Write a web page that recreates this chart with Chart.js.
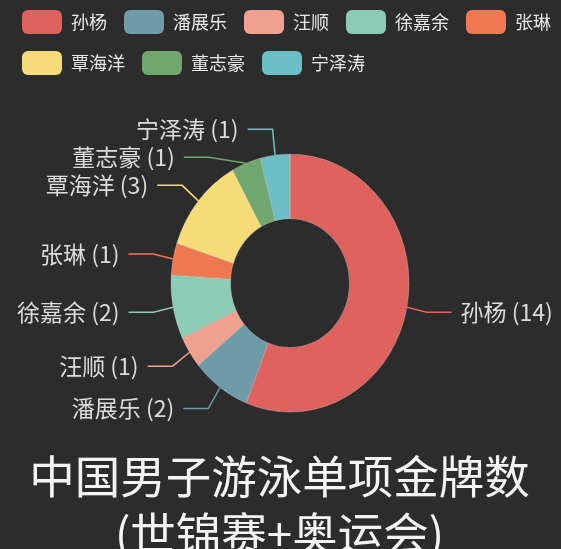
<!DOCTYPE html>
<html>
<head>
<meta charset="utf-8">
<script src="https://cdn.jsdelivr.net/npm/chart.js@4.4.1/dist/chart.umd.min.js"></script>
<style>
  html, body { margin: 0; padding: 0; background: #2c2c2c; }
  #wrap { width: 561px; height: 549px; position: relative; }
</style>
</head>
<body>
<div id="wrap"><canvas id="donut"></canvas></div>
<script>
var names = ['孙杨', '潘展乐', '汪顺', '徐嘉余', '张琳', '覃海洋', '董志豪', '宁泽涛'];
var medals = [14, 2, 1, 2, 1, 3, 1, 1];
var colors = ['#e0625f', '#6f9aa8', '#f0a08e', '#8ccbb5', '#f07850', '#f5dc78', '#6fa76e', '#6cbfc6'];
var titleLines = ['中国男子游泳单项金牌数', '(世锦赛+奥运会)'];

var FONT = '"Noto Sans CJK SC", "Noto Sans", sans-serif';
var stretchY = 1.084; // the reference ring is a bit taller than wide

// outside labels with two-part leader lines, like the original
var pieLabels = {
    id: 'pieLabels',
    afterLayout: function(chart) {
        // ring sits a little right of the page centre, title a little left
        chart.chartArea.left += 14;
        chart.chartArea.width -= 14;
        if (chart.titleBlock) {
            chart.titleBlock.left = 0;
            chart.titleBlock.right = chart.width - 2;
        }
    },
    beforeDatasetsDraw: function(chart) {
        var arc = chart.getDatasetMeta(0).data[0];
        var ctx = chart.ctx;
        ctx.save();
        ctx.translate(arc.x, arc.y);
        ctx.scale(1, stretchY);
        ctx.translate(-arc.x, -arc.y);
    },
    afterDatasetsDraw: function(chart) {
        var ctx = chart.ctx;
        ctx.restore();
        var meta = chart.getDatasetMeta(0);
        var len1 = 20, len1v = 24, len2 = 25, gap = 9, minGap = 28;
        var items = meta.data.map(function(el, i) {
            var p = el.getProps(['x', 'y', 'startAngle', 'endAngle', 'outerRadius'], true);
            var mid = (p.startAngle + p.endAngle) / 2;
            var Rx = p.outerRadius + len1;
            var Ry = (p.outerRadius + len1v) * stretchY;
            return {
                i: i, cx: p.x, cy: p.y, Rx: Rx, Ry: Ry,
                ex: p.x + Math.cos(mid) * p.outerRadius,
                ey: p.y + Math.sin(mid) * p.outerRadius * stretchY,
                nx: p.x + Math.cos(mid) * Rx,
                y: p.y + Math.sin(mid) * Ry,
                right: Math.cos(mid) >= 0
            };
        });
        // push crowded labels downward, top one stays
        [true, false].forEach(function(side) {
            var list = items.filter(function(it) { return it.right === side; });
            list.sort(function(a, b) { return a.y - b.y; });
            for (var k = 1; k < list.length; k++) {
                if (list[k].y < list[k - 1].y + minGap) list[k].y = list[k - 1].y + minGap;
            }
        });
        ctx.save();
        ctx.font = '23px ' + FONT;
        ctx.textBaseline = 'middle';
        items.forEach(function(it) {
            var f = (it.y - it.cy) / it.Ry;
            var bx = it.nx;
            if (Math.abs(f) < 1) {
                var dx = it.Rx * Math.sqrt(1 - f * f);
                bx = it.cx + (it.right ? dx : -dx);
            }
            var dir = it.right ? 1 : -1;
            var hx = bx + dir * len2;
            ctx.strokeStyle = colors[it.i];
            ctx.lineWidth = 1.5;
            ctx.beginPath();
            ctx.moveTo(it.ex, it.ey);
            ctx.lineTo(bx, it.y);
            ctx.lineTo(hx, it.y);
            ctx.stroke();
            ctx.fillStyle = '#dcdcdc';
            ctx.textAlign = it.right ? 'left' : 'right';
            ctx.fillText(names[it.i] + ' (' + medals[it.i] + ')', hx + dir * gap, it.y);
        });
        ctx.restore();
    }
};

var ctx = document.getElementById('donut').getContext('2d');
var myChart = new Chart(ctx, {
    type: 'doughnut',
    data: {
        labels: names,
        datasets: [{
            data: medals,
            backgroundColor: colors,
            borderColor: 'rgba(230,230,230,0.35)',
            borderWidth: 0.8,
            radius: 119,
            cutout: '50%'
        }]
    },
    options: {
        responsive: true,
        maintainAspectRatio: false,
        animation: false,
        layout: { padding: { left: 5, right: -14, top: -7, bottom: -13 } },
        plugins: {
            legend: {
                position: 'top',
                align: 'start',
                labels: {
                    boxWidth: 40,
                    boxHeight: 24,
                    padding: 17,
                    useBorderRadius: true,
                    borderRadius: 6,
                    color: '#e8e8e8',
                    font: { size: 18, family: FONT },
                    generateLabels: function(chart) {
                        var items = Chart.overrides.doughnut.plugins.legend.labels.generateLabels(chart);
                        items.forEach(function(it) { it.lineWidth = 0; it.strokeStyle = 'rgba(0,0,0,0)'; });
                        return items;
                    }
                }
            },
            title: {
                display: true,
                position: 'bottom',
                align: 'center',
                text: titleLines,
                color: '#f4f4f4',
                font: { size: 45.5, family: FONT, weight: 'normal', lineHeight: 1.25 },
                padding: { top: -33, bottom: 0 }
            },
            tooltip: { enabled: false }
        }
    },
    plugins: [pieLabels]
});
</script>
</body>
</html>
